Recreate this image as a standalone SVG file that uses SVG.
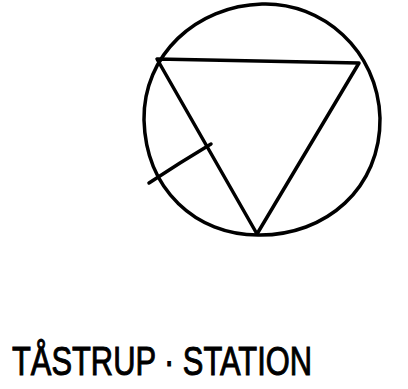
<svg xmlns="http://www.w3.org/2000/svg" width="408" height="389" viewBox="0 0 408 389">
<style>
.ln{fill:none;stroke:#000;stroke-width:3.5;stroke-linecap:round;stroke-linejoin:round}
.t{font-family:"Liberation Sans",Arial,sans-serif;font-size:40px;fill:#000;stroke:#000;stroke-width:1}
</style>
<rect width="408" height="389" fill="#fff"/>
<g id="circle">
<path class="ln" d="M262,4 C322,2 378,50 380,118 C381,188 326,236 258,235 C196,235 146,190 144,120 C143,55 196,6 262,4 Z"/>
</g>
<g id="triangle">
<path class="ln" d="M157,59 L359,63 L257,234 Z"/>
</g>
<g id="chord">
<path class="ln" d="M211,144 L180,163 L149,183"/>
</g>
<text class="t" x="12" y="375" textLength="300" lengthAdjust="spacingAndGlyphs">TÅSTRUP · STATION</text>
</svg>
